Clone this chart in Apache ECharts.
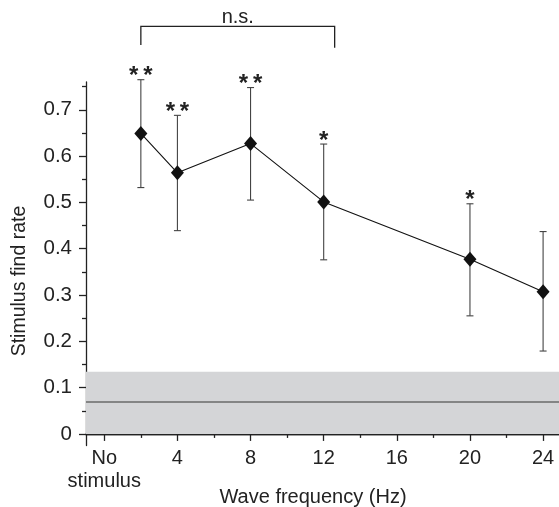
<!DOCTYPE html>
<html><head><meta charset="utf-8">
<script src="https://cdn.jsdelivr.net/npm/echarts@6/dist/echarts.min.js"></script>
<style>html,body{margin:0;padding:0;background:#fff}#c{width:559px;height:507px}</style>
</head><body><div id="c"></div>
<script>
// ---- data ----
const freqs = [2, 4, 8, 12, 20, 24];
const findRate = [0.649, 0.564, 0.627, 0.501, 0.377, 0.307];
const errLow = [0.532, 0.439, 0.505, 0.376, 0.255, 0.179];
const errHigh = [0.765, 0.688, 0.748, 0.626, 0.497, 0.437];
const significance = ['*\u2009*', '*\u2009*', '*\u2009*', '*', '*', ''];
const baselineMean = 0.067;
const baselineBand = [0, 0.134];
const xTickValues = [0, 4, 8, 12, 16, 20, 24];
const xTickLabels = ['No\nstimulus', '4', '8', '12', '16', '20', '24'];
const xMinorTicks = [2, 6, 10, 14, 18, 22];
const yTickValues = [0, 0.1, 0.2, 0.3, 0.4, 0.5, 0.6, 0.7];
const yTickLabels = ['0', '0.1', '0.2', '0.3', '0.4', '0.5', '0.6', '0.7'];
const yMinorTicks = [0.05, 0.15, 0.25, 0.35, 0.45, 0.55, 0.65, 0.75];
const nsFrom = 2, nsTo = 12.6, nsTop = 0.88, nsLegEnds = [0.84, 0.834];
const nsLabel = 'n.s.';
const xName = 'Wave frequency (Hz)';
const yName = 'Stimulus find rate';

// ---- chart ----
const FONT = 'Liberation Sans, Arial, sans-serif';
const INK = '#222';
const chart = echarts.init(document.getElementById('c'), null, {renderer: 'canvas'});
const axisLineStyle = {color: INK, width: 1.3};
const option = {
  animation: false,
  backgroundColor: '#fff',
  textStyle: {fontFamily: FONT},
  grid: {left: 86, right: 0, top: 82, bottom: 61.5, containLabel: false, outerBoundsMode: 'none'},
  xAxis: [{
    type: 'value', min: -1, max: 24.87, position: 'bottom',
    axisLine: {show: true, onZero: true, onZeroAxisIndex: 0, lineStyle: axisLineStyle},
    axisTick: {show: true, customValues: xTickValues, length: 7, lineStyle: axisLineStyle},
    axisLabel: {customValues: xTickValues, formatter: v => xTickLabels[xTickValues.indexOf(v)],
      fontSize: 20, color: INK, margin: 1, lineHeight: 23, fontFamily: FONT},
    splitLine: {show: false}
  }, {
    type: 'value', min: -1, max: 24.87, position: 'bottom',
    axisLine: {show: true, onZero: true, onZeroAxisIndex: 0, lineStyle: axisLineStyle},
    axisTick: {show: true, customValues: xMinorTicks, length: 4, lineStyle: axisLineStyle},
    axisLabel: {show: false},
    splitLine: {show: false}
  }],
  yAxis: [{
    type: 'value', min: -0.025, max: 0.76, position: 'left',
    axisLine: {show: true, onZero: false, lineStyle: axisLineStyle},
    axisTick: {show: true, customValues: yTickValues, length: 7, lineStyle: axisLineStyle},
    axisLabel: {customValues: yTickValues, formatter: v => yTickLabels[yTickValues.indexOf(v)],
      fontSize: 20.5, color: INK, margin: 14, fontFamily: FONT},
    splitLine: {show: false}
  }, {
    type: 'value', min: -0.025, max: 0.76, position: 'left',
    axisLine: {show: false, onZero: false},
    axisTick: {show: true, customValues: yMinorTicks, length: 4, lineStyle: axisLineStyle},
    axisLabel: {show: false},
    splitLine: {show: false}
  }],
  graphic: [
    {type: 'text', x: 20, y: 281, rotation: Math.PI / 2,
      style: {text: yName, font: '19.5px ' + FONT, fill: INK, align: 'center', verticalAlign: 'middle'}},
    {type: 'text', x: 313, y: 497,
      style: {text: xName, font: '20px ' + FONT, fill: INK, align: 'center', verticalAlign: 'middle'}}
  ],
  series: [
    {
      type: 'line', name: 'band', data: [], silent: true, z: 1,
      markArea: {silent: true, itemStyle: {color: '#d4d5d7', borderWidth: 0},
        data: [[{yAxis: baselineBand[0]}, {yAxis: baselineBand[1]}]]},
      markLine: {silent: true, symbol: ['none', 'none'], label: {show: false},
        lineStyle: {color: '#6a6a6a', width: 1.5, type: 'solid'},
        data: [{yAxis: baselineMean}]}
    },
    {
      type: 'custom', name: 'error', z: 2, clip: false,
      data: freqs.map((f, i) => [f, errLow[i], errHigh[i], i]),
      renderItem: (params, api) => {
        const x = api.value(0);
        const lo = api.coord([x, api.value(1)]);
        const hi = api.coord([x, api.value(2)]);
        const hw = 3.5;
        const st = {stroke: '#444', lineWidth: 1.1};
        return {type: 'group', children: [
          {type: 'line', shape: {x1: lo[0], y1: lo[1], x2: hi[0], y2: hi[1]}, style: st},
          {type: 'line', shape: {x1: hi[0] - hw, y1: hi[1], x2: hi[0] + hw, y2: hi[1]}, style: st},
          {type: 'line', shape: {x1: lo[0] - hw, y1: lo[1], x2: lo[0] + hw, y2: lo[1]}, style: st},
          {type: 'text', x: hi[0], y: hi[1] + 9,
            style: {text: significance[api.value(3)], font: 'bold 24px ' + FONT, fill: INK,
              align: 'center', verticalAlign: 'bottom'}}
        ]};
      }
    },
    {
      type: 'line', name: 'rate', z: 3,
      data: freqs.map((f, i) => [f, findRate[i]]),
      symbol: 'diamond', symbolSize: [13, 15],
      itemStyle: {color: '#111'},
      lineStyle: {color: '#111', width: 1.1}
    },
    {
      type: 'custom', name: 'bracket', z: 2, clip: false,
      data: [[nsFrom, nsTo, nsTop, nsLegEnds[0], nsLegEnds[1]]],
      renderItem: (params, api) => {
        const a = api.coord([api.value(0), api.value(2)]);
        const b = api.coord([api.value(1), api.value(2)]);
        const aEnd = api.coord([api.value(0), api.value(3)]);
        const bEnd = api.coord([api.value(1), api.value(4)]);
        return {type: 'group', children: [
          {type: 'polyline', shape: {points: [[aEnd[0], aEnd[1]], [a[0], a[1]], [b[0], b[1]], [bEnd[0], bEnd[1]]]},
            style: {stroke: INK, lineWidth: 1.3, fill: null}},
          {type: 'text', x: (a[0] + b[0]) / 2, y: a[1] - 9,
            style: {text: nsLabel, font: '20px ' + FONT, fill: INK, align: 'center', verticalAlign: 'middle'}}
        ]};
      }
    }
  ]
};
chart.setOption(option);
</script>
</body></html>
